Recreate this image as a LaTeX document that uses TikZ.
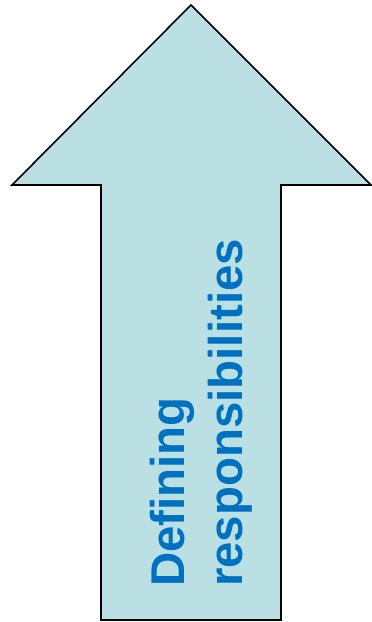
\documentclass[tikz,border=0pt]{standalone}
\usepackage{fontspec}
\setmainfont{Liberation Sans}
\definecolor{arrowfill}{RGB}{186,224,227}
\definecolor{labelblue}{RGB}{0,112,192}
\begin{document}
\begin{tikzpicture}[x=1pt,y=1pt]
            \useasboundingbox (0,0) rectangle (372,622);
            \draw[fill=arrowfill,line width=1.6pt] (191,617) -- (371,437) -- (281,437) -- (281,2) -- (101,2) -- (101,437) -- (12,437) -- cycle;
            \node[rotate=90,anchor=north west,align=left,inner sep=0pt,text=labelblue,font=\fontsize{47.4}{58}\selectfont\bfseries] (label) at (149.5,35) {Defining\\responsibilities};
        \end{tikzpicture}
\end{document}
